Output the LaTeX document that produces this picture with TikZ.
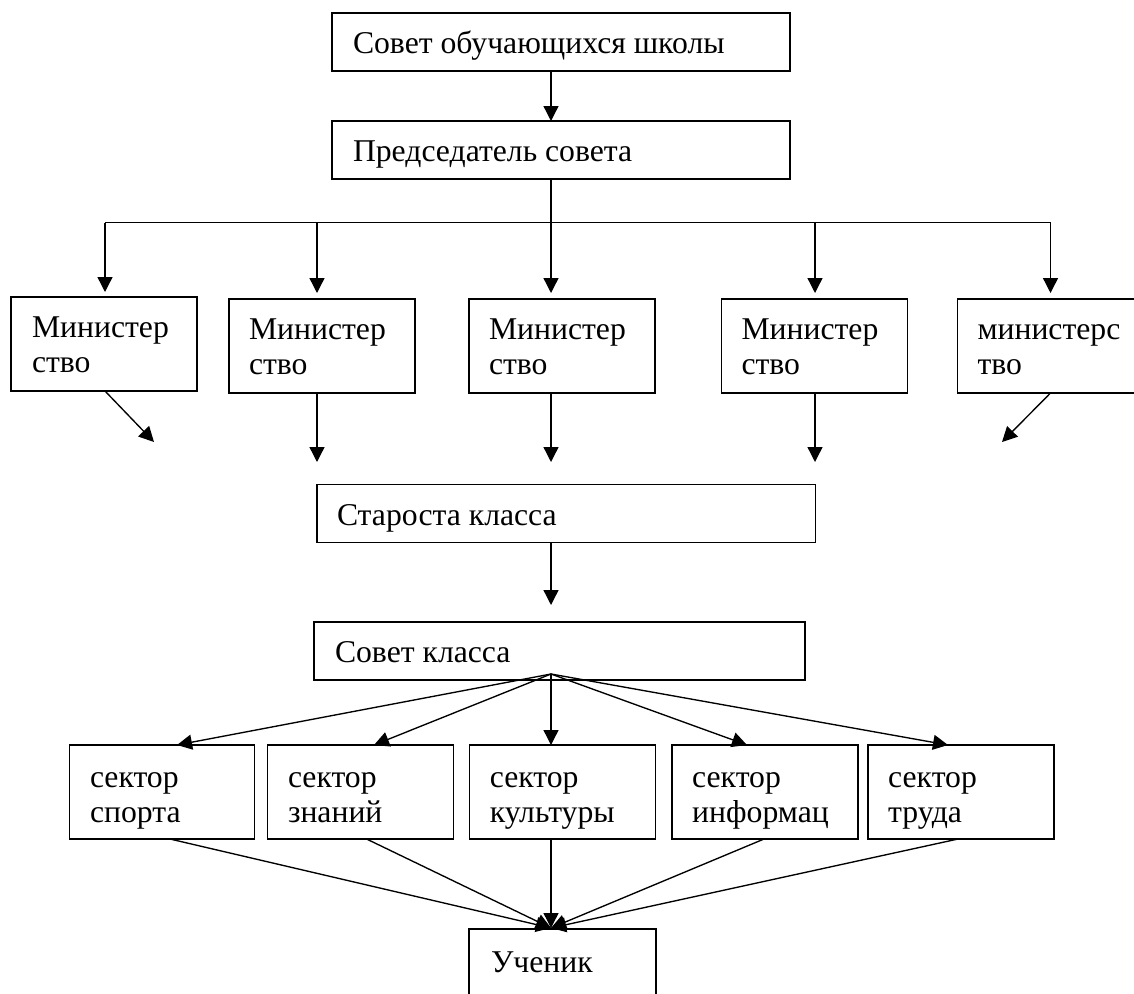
\documentclass[tikz,border=0pt]{standalone}
\usepackage{fontspec}
\newfontfamily\fs{Liberation Serif}
\usetikzlibrary{arrows.meta,calc}
\newcommand\twoln[2]{\parbox[t]{170pt}{#1\\#2}}
\begin{document}
\begin{tikzpicture}[x=1pt,y=-1pt,
  box/.style={draw, line width=1.6pt, rectangle, anchor=north west, inner sep=0pt, outer sep=0pt},
  txt/.style={anchor=base west, inner sep=0pt, outer sep=0pt, font={\fs\fontsize{31.7}{35.5}\selectfont}},
  ln/.style={line width=1.35pt},
  arr/.style={line width=1.35pt, -{Triangle[length=15pt,width=15pt]}}]
\clip (0,0) rectangle (1134,993);
\fill[white] (0,0) rectangle (1134,993);
% boxes
\node[box, minimum width=458pt, minimum height=58pt] (b1) at (332,13) {};
\node[box, minimum width=458pt, minimum height=58pt] (b2) at (332,121) {};
\node[box, minimum width=186pt, minimum height=94pt] (m1) at (11,297) {};
\node[box, minimum width=186pt, minimum height=94pt] (m2) at (229,299) {};
\node[box, minimum width=186pt, minimum height=94pt] (m3) at (469,299) {};
\node[box, minimum width=186pt, minimum height=94pt] (m4) at (721.5,299) {};
\node[box, minimum width=186pt, minimum height=94pt] (m5) at (957.5,299) {};
\node[box, minimum width=498.5pt, minimum height=58pt] (s) at (317,484.5) {};
\node[box, minimum width=491pt, minimum height=58pt] (k) at (314,622) {};
\node[box, minimum width=185pt, minimum height=94pt] (c1) at (69.5,745) {};
\node[box, minimum width=186pt, minimum height=94pt] (c2) at (267.5,745) {};
\node[box, minimum width=186pt, minimum height=94pt] (c3) at (469.3,745) {};
\node[box, minimum width=186pt, minimum height=94pt] (c4) at (671.7,745) {};
\node[box, minimum width=186pt, minimum height=94pt] (c5) at (867.7,745) {};
\node[box, minimum width=187pt, minimum height=66pt] (u) at (469,929) {};
% texts
\node[txt] (tb1) at ($(b1.north west)+(21,40)$) {Совет обучающихся школы};
\node[txt] (tb2) at ($(b2.north west)+(21,40)$) {Председатель совета};
\node[txt] (tm1) at ($(m1.north west)+(21,40)$) {\twoln{Министер}{ство}};
\node[txt] (tm2) at ($(m2.north west)+(20,40)$) {\twoln{Министер}{ство}};
\node[txt] (tm3) at ($(m3.north west)+(20,40)$) {\twoln{Министер}{ство}};
\node[txt] (tm4) at ($(m4.north west)+(20,40)$) {\twoln{Министер}{ство}};
\node[txt] (tm5) at ($(m5.north west)+(20,40)$) {\twoln{министерс}{тво}};
\node[txt] (ts) at ($(s.north west)+(20,40.5)$) {Староста класса};
\node[txt] (tk) at ($(k.north west)+(21,40)$) {Совет класса};
\node[txt] (tc1) at ($(c1.north west)+(20.5,42)$) {\twoln{сектор}{спорта}};
\node[txt] (tc2) at ($(c2.north west)+(20.5,42)$) {\twoln{сектор}{знаний}};
\node[txt] (tc3) at ($(c3.north west)+(20.5,42)$) {\twoln{сектор}{культуры}};
\node[txt] (tc4) at ($(c4.north west)+(20.5,42)$) {\twoln{сектор}{информац}};
\node[txt] (tc5) at ($(c5.north west)+(20.5,42)$) {\twoln{сектор}{труда}};
\node[txt] (tu) at ($(u.north west)+(22,43)$) {Ученик};
% helper coordinates
\coordinate (cx) at (551,0);
\coordinate (d1) at (105,222.7);
\coordinate (d2) at (317,222.7);
\coordinate (d3) at (551,222.7);
\coordinate (d4) at (815,222.7);
\coordinate (d5) at (1050.5,222.7);
\coordinate (e1) at (154,442);
\coordinate (e2) at (317,462);
\coordinate (e3) at (551,462);
\coordinate (e4) at (815,462);
\coordinate (e5) at (1002,442);
\coordinate (kk) at (551,674);
\coordinate (t1) at (177,0);
\coordinate (t2) at (374,0);
\coordinate (t3) at (551,0);
\coordinate (t4) at (747,0);
\coordinate (t5) at (948,0);
\coordinate (f1) at (170,0);
\coordinate (f2) at (366.6,0);
\coordinate (f3) at (551,0);
\coordinate (f4) at (764,0);
\coordinate (f5) at (958,0);
\coordinate (ut) at (551,928);
% connectors
\draw[arr] (b1.south -| cx) -- (b2.north -| cx);
\draw[ln] (b2.south -| cx) -- (d3);
\draw[ln] (d1) -- (d5);
\draw[arr, shorten >=5pt] (d1) -- (d1 |- m1.north);
\draw[arr, shorten >=6pt] (d2) -- (d2 |- m2.north);
\draw[arr, shorten >=6pt] (d3) -- (d3 |- m3.north);
\draw[arr, shorten >=6pt] (d4) -- (d4 |- m4.north);
\draw[arr, shorten >=6pt] (d5) -- (d5 |- m5.north);
\draw[arr] (m1.south -| d1) -- (e1);
\draw[arr] (m2.south -| d2) -- (e2);
\draw[arr] (m3.south -| d3) -- (e3);
\draw[arr] (m4.south -| d4) -- (e4);
\draw[arr] (m5.south -| d5) -- (e5);
\draw[arr, shorten >=17pt] (s.south -| cx) -- (k.north -| cx);
\draw[arr] (kk) -- (t1 |- c1.north);
\draw[arr] (kk) -- (t2 |- c2.north);
\draw[arr] (kk) -- (t3 |- c3.north);
\draw[arr] (kk) -- (t4 |- c4.north);
\draw[arr] (kk) -- (t5 |- c5.north);
\draw[arr] (f1 |- c1.south) -- (ut);
\draw[arr] (f2 |- c2.south) -- (ut);
\draw[arr] (f3 |- c3.south) -- (ut);
\draw[arr] (f4 |- c4.south) -- (ut);
\draw[arr] (f5 |- c5.south) -- (ut);
\end{tikzpicture}
\end{document}
